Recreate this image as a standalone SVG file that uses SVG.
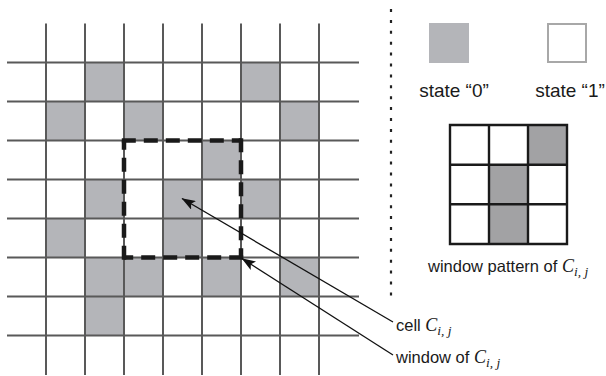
<svg xmlns="http://www.w3.org/2000/svg" width="606" height="376" viewBox="0 0 606 376">
  <defs>
    <style>
      .cell0 { fill: #b4b5b9; }
      .gridline { stroke: #595959; stroke-width: 2; fill: none; }
      .win { stroke: #1a1a1a; stroke-width: 4.5; fill: none; stroke-dasharray: 14 8; }
      .sep { stroke: #222; stroke-width: 2.2; fill: none; stroke-dasharray: 3 7.9; }
      .lbl { font-family: "Liberation Sans", Arial, sans-serif; font-size: 16.5px; fill: #1a1a1a; }
      .state { font-size: 19px; }
      .math { font-family: "Liberation Serif", "Times New Roman", serif; font-style: italic; font-size: 18px; }
      .sub { font-family: "Liberation Serif", "Times New Roman", serif; font-style: italic; font-size: 13.5px; }
      .pcell { fill: #a2a2a4; }
      .pgrid { stroke: #1a1a1a; stroke-width: 2.4; fill: none; }
      .lead { stroke: #111; stroke-width: 1.3; fill: none; }
    </style>
    <marker id="head" markerUnits="userSpaceOnUse" viewBox="0 0 14 10" refX="13.5" refY="5" markerWidth="14" markerHeight="10" orient="auto">
      <path d="M0,0 L14,5 L0,10 L3,5 z" fill="#111"/>
    </marker>
  </defs>

  <rect width="606" height="376" fill="#fff"/>

  <!-- cellular grid -->
  <g id="grid">
    <g id="state0-cells">
      <rect class="cell0" x="85" y="62.5" width="39" height="39"/>
      <rect class="cell0" x="241" y="62.5" width="39" height="39"/>
      <rect class="cell0" x="46" y="101.5" width="39" height="39"/>
      <rect class="cell0" x="124" y="101.5" width="39" height="39"/>
      <rect class="cell0" x="280" y="101.5" width="39" height="39"/>
      <rect class="cell0" x="202" y="140.5" width="39" height="39"/>
      <rect class="cell0" x="85" y="179.5" width="39" height="39"/>
      <rect class="cell0" x="163" y="179.5" width="39" height="39"/>
      <rect class="cell0" x="241" y="179.5" width="39" height="39"/>
      <rect class="cell0" x="46" y="218.5" width="39" height="39"/>
      <rect class="cell0" x="163" y="218.5" width="39" height="39"/>
      <rect class="cell0" x="85" y="257.5" width="39" height="39"/>
      <rect class="cell0" x="124" y="257.5" width="39" height="39"/>
      <rect class="cell0" x="202" y="257.5" width="39" height="39"/>
      <rect class="cell0" x="280" y="257.5" width="39" height="39"/>
      <rect class="cell0" x="85" y="296.5" width="39" height="39"/>
    </g>
    <path class="gridline" d="M46,23.5V375 M85,23.5V375 M124,23.5V375 M163,23.5V375 M202,23.5V375 M241,23.5V375 M280,23.5V375 M319,23.5V375
      M7,62.5H359 M7,101.5H359 M7,140.5H359 M7,179.5H359 M7,218.5H359 M7,257.5H359 M7,296.5H359 M7,335.5H359"/>
  </g>

  <!-- dashed 3x3 window around the cell -->
  <g id="window">
    <path class="win" d="M121.8,140.5H241"/>
    <path class="win" d="M241,138.3V257.5"/>
    <path class="win" d="M243.2,257.5H124"/>
    <path class="win" d="M124,259.7V140.5"/>
  </g>

  <!-- dotted separator -->
  <g id="separator">
    <path class="sep" d="M391,9V298"/>
  </g>

  <!-- legend -->
  <g id="legend-state0">
    <rect class="cell0" x="429" y="23" width="40" height="40"/>
    <text class="lbl state" x="454" y="97" text-anchor="middle">state “0”</text>
  </g>
  <g id="legend-state1">
    <rect x="548" y="24" width="38" height="38" fill="#fff" stroke="#a8a8a8" stroke-width="2"/>
    <text class="lbl state" x="570" y="97" text-anchor="middle">state “1”</text>
  </g>

  <!-- window pattern -->
  <g id="pattern">
    <rect class="pcell" x="528" y="125" width="39" height="39.7"/>
    <rect class="pcell" x="489" y="164.7" width="39" height="39.6"/>
    <rect class="pcell" x="489" y="204.3" width="39" height="39.7"/>
    <path class="pgrid" d="M450,125H567V244H450Z M489,125V244 M528,125V244 M450,164.7H567 M450,204.3H567"/>
    <text class="lbl" x="428" y="272">window pattern of <tspan class="math">C</tspan><tspan class="sub" dy="4">i, j</tspan></text>
  </g>

  <!-- callout labels -->
  <g id="label-cell">
    <text class="lbl" x="396" y="331">cell <tspan class="math">C</tspan><tspan class="sub" dy="4">i, j</tspan></text>
  </g>
  <g id="label-window">
    <text class="lbl" x="396" y="363">window of <tspan class="math">C</tspan><tspan class="sub" dy="4">i, j</tspan></text>
  </g>

  <!-- leader arrows -->
  <g id="connectors">
    <path class="lead" d="M393,322L182,198.5" marker-end="url(#head)"/>
    <path class="lead" d="M393,355L242,258.5" marker-end="url(#head)"/>
  </g>
</svg>
